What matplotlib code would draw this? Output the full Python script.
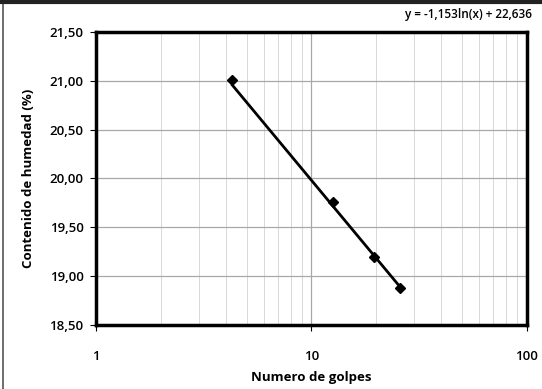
import matplotlib
matplotlib.use("Agg")
import matplotlib.pyplot as plt
import numpy as np
from matplotlib.ticker import FixedLocator, FuncFormatter, LogLocator, NullFormatter

golpes = [4.3, 12.6, 19.5, 25.8]
humedad = [21.01, 19.76, 19.19, 18.88]
x_ticks = [1, 10, 100]
x_tick_labels = ["1", "10", "100"]
y_ticks = [18.5, 19.0, 19.5, 20.0, 20.5, 21.0, 21.5]
equation = "y = -1,153ln(x) + 22,636"
slope, intercept = -1.153, 22.636

plt.rcParams['font.family'] = ['Open Sans', 'DejaVu Sans']

fig = plt.figure(figsize=(5.42, 3.89), dpi=100)
ax = fig.add_axes([0.177, 0.165, 0.795, 0.753])
ax.set_xscale('log')
ax.set_xlim(1, 100)
ax.set_ylim(18.5, 21.5)

ax.xaxis.set_major_locator(FixedLocator(x_ticks))
ax.xaxis.set_major_formatter(FuncFormatter(lambda v, p: x_tick_labels[x_ticks.index(round(v))] if round(v) in x_ticks else ""))
ax.xaxis.set_minor_locator(LogLocator(base=10, subs=np.arange(2, 10)))
ax.xaxis.set_minor_formatter(NullFormatter())
ax.yaxis.set_major_locator(FixedLocator(y_ticks))
ax.yaxis.set_major_formatter(FuncFormatter(lambda v, p: f"{v:.2f}".replace('.', ',')))

ax.grid(which='major', axis='both', color='#a8a8a8', linewidth=0.9)
ax.grid(which='minor', axis='x', color='#d8d8d8', linewidth=0.7)
ax.set_axisbelow(True)

for s in ax.spines.values():
    s.set_linewidth(2.5)
    s.set_color('black')

ax.tick_params(axis='both', which='major', length=4, width=0.8, labelsize=9.5)
ax.tick_params(axis='x', which='minor', length=0)
ax.tick_params(axis='x', which='major', pad=14)
ax.tick_params(axis='y', which='major', pad=5)
for lab in ax.get_xticklabels() + ax.get_yticklabels():
    lab.set_fontweight('semibold')

xs = np.array([min(golpes), max(golpes)])
ax.plot(xs, slope * np.log(xs) + intercept, color='black', linewidth=2.0, zorder=3)
ax.plot(golpes, humedad, linestyle='none', marker='D', markersize=5.5, color='black', zorder=4)

ax.set_xlabel("Numero de golpes", fontsize=9.5, fontweight='bold', labelpad=6)
ax.set_ylabel("Contenido de humedad (%)", fontsize=9.5, fontweight='bold', labelpad=10)

fig.text(0.865, 0.963, equation, ha='center', va='center', fontsize=8.5, fontweight='semibold')

# scan frame edges
fig.add_artist(plt.Line2D([0.006, 0.006], [0.0, 1.0], color='#555555', linewidth=1.2))
fig.add_artist(plt.Line2D([0.0, 1.0], [0.995, 0.995], color='#222222', linewidth=3))

fig.savefig("out.png", dpi=100)
